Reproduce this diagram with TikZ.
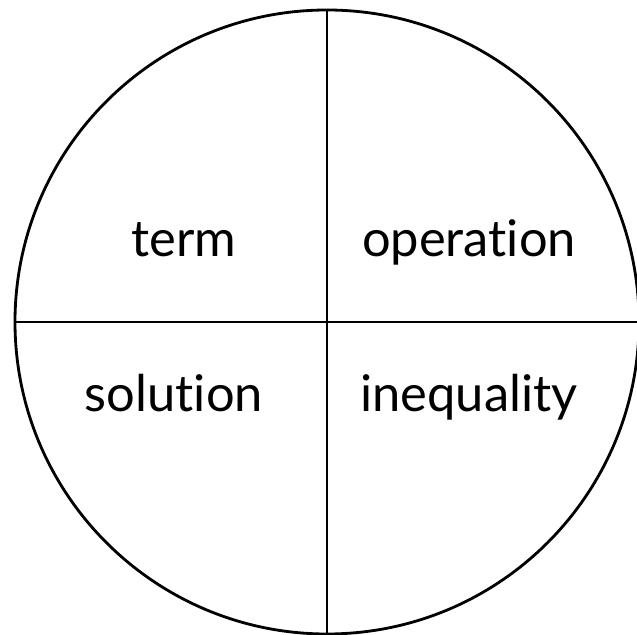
\documentclass[tikz,border=0pt]{standalone}
\usepackage{fontspec}
\setmainfont[Ligatures=NoCommon]{Lato}
\begin{document}
\begin{tikzpicture}[
    x=0.025cm,
    y=-0.025cm,
    every node/.style={
        inner sep=0pt,
    },
    ring/.style={
        circle,
        draw,
        line width=2pt,
        minimum size=624*0.025cm,
    },
    divider/.style={draw, line width=2pt},
    word/.style={anchor=base, font=\fontsize{36}{42}\selectfont},
    ]
    \useasboundingbox (0,0) rectangle (637,635);
    \node[ring] (wheel) at (327,322) {};
    \draw[divider] (wheel.north) -- (wheel.south);
    \draw[divider] (wheel.west) -- (wheel.east);
    \node[word] (term) at (184,257) {term};
    \node[word] (operation) at (469,257) {operation};
    \node[word] (solution) at (174,411) {solution};
    \node[word] (inequality) at (469,411) {inequality};
\end{tikzpicture}
\end{document}
